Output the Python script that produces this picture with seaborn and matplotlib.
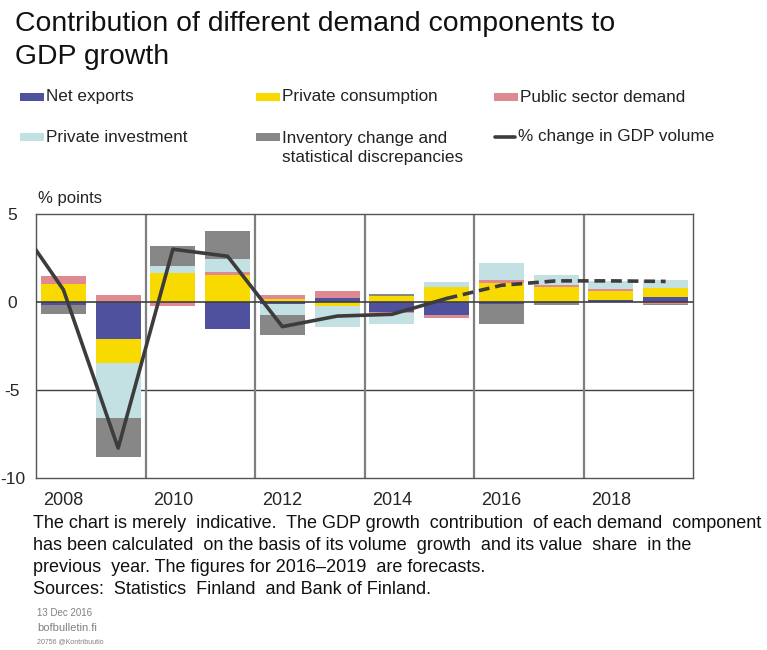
import numpy as np
import pandas as pd
import seaborn as sns
import matplotlib.pyplot as plt
from matplotlib.patches import Rectangle
from matplotlib.lines import Line2D

# Values (% points)
years = [2008, 2009, 2010, 2011, 2012, 2013, 2014, 2015, 2016, 2017, 2018, 2019]
net_exports = [-0.17, -2.10, 0.00, -1.53, -0.10, 0.25, -0.57, -0.76, -0.10, 0.00, 0.14, 0.27]
private_consumption = [1.02, -1.38, 1.63, 1.53, 0.19, -0.20, 0.33, 0.85, 1.06, 0.88, 0.50, 0.51]
public_demand = [0.47, 0.42, -0.20, 0.20, 0.23, 0.40, -0.06, -0.15, 0.19, 0.10, 0.08, -0.10]
private_investment = [0.00, -3.13, 0.43, 0.70, -0.64, -1.23, -0.60, 0.26, 0.98, 0.55, 0.48, 0.47]
inventory = [-0.49, -2.18, 1.12, 1.59, -1.12, 0.00, 0.15, 0.00, -1.14, -0.19, 0.00, -0.05]

gdp_years = [2007, 2008, 2009, 2010, 2011, 2012, 2013, 2014, 2015, 2016, 2017, 2018, 2019]
gdp_change = [5.2, 0.7, -8.3, 3.0, 2.6, -1.4, -0.8, -0.7, 0.2, 0.95, 1.2, 1.2, 1.17]
last_actual = 2015

series_names = ['Net exports', 'Private consumption', 'Public sector demand',
                'Private investment', 'Inventory change and\nstatistical discrepancies']
series_values = [net_exports, private_consumption, public_demand, private_investment, inventory]
series_colors = ['#4F519E', '#F9DA00', '#DE8A92', '#C3E0E3', '#878787']
line_color = '#3C3C3C'

y_ticks = [5, 0, -5, -10]

sns.set_style('white')
plt.rcParams['font.family'] = ['Liberation Sans', 'DejaVu Sans']
plt.rcParams['axes.unicode_minus'] = False

fig = plt.figure(figsize=(7.67, 6.5), dpi=100)
ax = fig.add_axes([36 / 767, 1 - 478 / 650, 657 / 767, 264 / 650])

# stacked bars: positives up from zero, negatives down from zero
pos_base = np.zeros(len(years))
neg_base = np.zeros(len(years))
for name, vals, col in zip(series_names, series_values, series_colors):
    vals = np.array(vals)
    bottom = np.where(vals >= 0, pos_base, neg_base)
    ax.bar(years, vals, bottom=bottom, width=0.82, color=col, linewidth=0, zorder=2)
    pos_base += np.where(vals >= 0, vals, 0)
    neg_base += np.where(vals < 0, vals, 0)

gdp = pd.DataFrame({'year': gdp_years, 'gdp': gdp_change})
sns.lineplot(data=gdp[gdp['year'] <= last_actual], x='year', y='gdp', ax=ax,
             color=line_color, linewidth=2.6, zorder=4)
sns.lineplot(data=gdp[gdp['year'] >= last_actual], x='year', y='gdp', ax=ax,
             color=line_color, linewidth=2.6, linestyle=(0, (3, 1.6)), zorder=4)

ax.set_xlim(years[0] - 0.5, years[-1] + 0.5)
ax.set_ylim(-10, 5)
ax.axhline(0, color='#404040', linewidth=1.2, zorder=3)
ax.axhline(-5, color='#404040', linewidth=1.0, zorder=1)
for xv in np.arange(years[0] + 1.5, years[-1], 2):
    ax.axvline(xv, color='#7F7F7F', linewidth=1.6, zorder=1)

for side in ['top', 'bottom', 'left', 'right']:
    ax.spines[side].set_color('#555555')
    ax.spines[side].set_linewidth(1.0)

ax.set_xticks(years[::2])
ax.set_xticklabels([str(y) for y in years[::2]], fontsize=13)
ax.set_yticks(y_ticks)
ax.set_yticklabels([str(t) for t in y_ticks], fontsize=12.5, ha='center')
ax.tick_params(axis='x', length=0, pad=10)
ax.tick_params(axis='y', length=0, pad=17)
ax.set_xlabel('')
ax.set_ylabel('')
ax.text(0.003, 1.06, '% points', transform=ax.transAxes, fontsize=12, va='center')

W, H = 767, 650

# title
fig.text(15 / W, 1 - 11 / H, 'Contribution of different demand components to\nGDP growth',
         fontsize=20.4, va='top', ha='left', linespacing=1.36, color='#111111')

# legend, laid out as in the reference
legend_items = [
    (20, 97, 'patch', series_colors[0], series_names[0]),
    (256, 97, 'patch', series_colors[1], series_names[1]),
    (494, 97, 'patch', series_colors[2], series_names[2]),
    (20, 137, 'patch', series_colors[3], series_names[3]),
    (256, 137, 'patch', series_colors[4], series_names[4]),
    (495, 137, 'line', line_color, '% change in GDP volume'),
]
for x0, y0, kind, col, label in legend_items:
    if kind == 'patch':
        fig.patches.append(Rectangle((x0 / W, 1 - (y0 + 4) / H), 24 / W, 8 / H,
                                     transform=fig.transFigure, color=col, linewidth=0))
        tx = x0 + 26
    else:
        fig.lines.append(Line2D([x0 / W, (x0 + 20) / W], [1 - y0 / H, 1 - y0 / H],
                                transform=fig.transFigure, color=col, linewidth=2.6))
        tx = x0 + 23
    if '\n' in label:
        fig.text(tx / W, 1 - (y0 - 6) / H, label, fontsize=12.3, va='top',
                 ha='left', linespacing=1.37, color='#222222')
    else:
        fig.text(tx / W, 1 - y0 / H, label, fontsize=12.3, va='center',
                 ha='left', color='#222222')

# footnote
notes = ['The chart is merely  indicative.  The GDP growth  contribution  of each demand  component',
         'has been calculated  on the basis of its volume  growth  and its value  share  in the',
         'previous  year. The figures for 2016\u20132019  are forecasts.',
         'Sources:  Statistics  Finland  and Bank of Finland.']
for i, line in enumerate(notes):
    fig.text(33 / W, 1 - (524 + i * 22) / H, line, fontsize=13, va='center', ha='left', color='#111111')

fig.text(37 / W, 1 - 613 / H, '13 Dec 2016', fontsize=7, color='#808080', va='center')
fig.text(37 / W, 1 - 628 / H, 'bofbulletin.fi', fontsize=8, color='#808080', va='center')
fig.text(37 / W, 1 - 642 / H, '20756 @Kontribuutio', fontsize=5, color='#808080', va='center')

fig.savefig('out.png', dpi=100)
